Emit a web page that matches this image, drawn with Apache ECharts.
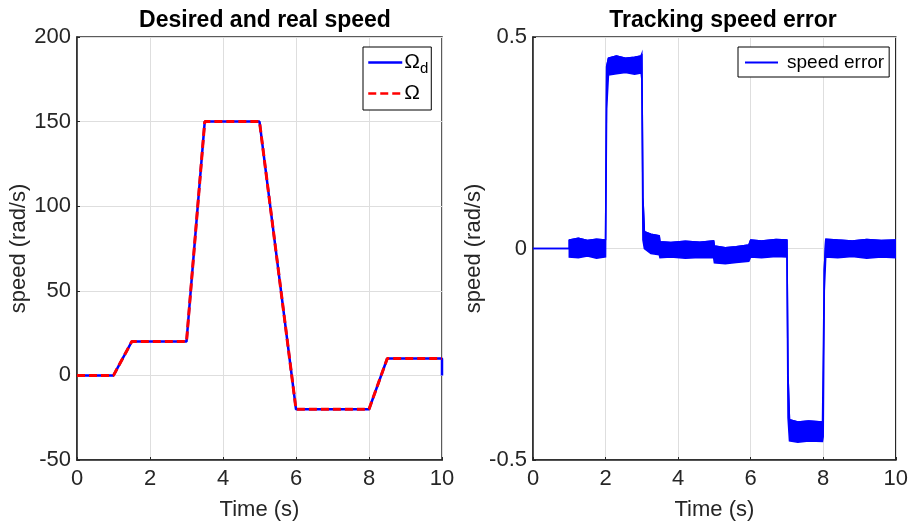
<!DOCTYPE html>
<html>
<head>
<meta charset="utf-8">
<script src="https://cdn.jsdelivr.net/npm/echarts@6/dist/echarts.min.js"></script>
<style>
html, body { margin: 0; padding: 0; background: #fff; }
#chart { width: 911px; height: 526px; }
</style>
</head>
<body>
<div id="chart"></div>
<script>
// left plot: desired / real speed
const speedT = [0, 1, 1.5, 3, 3.5, 5, 6, 8, 8.5, 10, 10];
const speedRef = [0, 0, 20, 20, 150, 150, -20, -20, 10, 10, 0];
const realT = [0, 1, 1.5, 3, 3.5, 5, 6, 8, 8.5, 10];
const speedReal = [0, 0, 20, 20, 150, 150, -20, -20, 10, 10];

// right plot: speed error, upper and lower edge of the noisy band
const errT = [0, 1, 1, 1.25, 1.5, 1.75, 2, 2.03, 2.08, 2.3, 2.55, 2.8, 2.98, 3.0, 3.03, 3.07, 3.25, 3.48, 3.5, 3.8, 4.2, 4.6, 4.98, 5.0, 5.3, 5.6, 5.95, 6.0, 6.3, 6.7, 7.0, 7.03, 7.07, 7.3, 7.6, 7.98, 8.0, 8.03, 8.07, 8.4, 8.8, 9.2, 9.6, 10];
const errUpper = [0, 0, 0.02, 0.024, 0.019, 0.022, 0.02, 0.43, 0.45, 0.455, 0.45, 0.452, 0.455, 0.46, 0.12, 0.04, 0.034, 0.03, 0.016, 0.014, 0.017, 0.015, 0.018, 0.006, 0.002, 0.004, 0.008, 0.02, 0.018, 0.021, 0.02, -0.3, -0.405, -0.41, -0.408, -0.41, -0.41, -0.05, 0.022, 0.02, 0.018, 0.021, 0.019, 0.02];
const errLower = [0, 0, -0.02, -0.022, -0.018, -0.023, -0.02, 0.33, 0.41, 0.413, 0.416, 0.412, 0.415, 0.40, 0.02, 0.0, -0.012, -0.015, -0.022, -0.02, -0.023, -0.021, -0.022, -0.034, -0.036, -0.033, -0.03, -0.02, -0.022, -0.019, -0.02, -0.4, -0.455, -0.458, -0.455, -0.456, -0.445, -0.1, -0.02, -0.022, -0.019, -0.023, -0.02, -0.022];

const FONT = "'Liberation Sans', Arial, sans-serif";
const AXIS_COLOR = '#262626';
const GRID_COLOR = '#dedede';

const zip = (xs, ys) => xs.map((x, i) => [x, ys[i]]);

function xAxisOf(gi) {
    return {
        gridIndex: gi,
        type: 'value',
        min: 0, max: 10, interval: 2,
        name: 'Time (s)',
        nameLocation: 'middle',
        nameGap: 39,
        nameTextStyle: { fontSize: 22, color: AXIS_COLOR, fontFamily: FONT },
        axisLine: { onZero: false, lineStyle: { color: AXIS_COLOR, width: 1.5 } },
        axisTick: { inside: true, length: 3, lineStyle: { color: AXIS_COLOR } },
        axisLabel: { fontSize: 22, color: AXIS_COLOR, fontFamily: FONT, margin: 8 },
        splitLine: { lineStyle: { color: GRID_COLOR, width: 1 } },
    };
}

function yAxisOf(gi, min, max, interval, gap) {
    return {
        gridIndex: gi,
        type: 'value',
        min: min, max: max, interval: interval,
        name: 'speed (rad/s)',
        nameLocation: 'middle',
        nameGap: gap,
        nameTextStyle: { fontSize: 22, color: AXIS_COLOR, fontFamily: FONT },
        axisLine: { onZero: false, lineStyle: { color: AXIS_COLOR, width: 1.5 } },
        axisTick: { inside: true, length: 3, lineStyle: { color: AXIS_COLOR } },
        axisLabel: { fontSize: 22, color: AXIS_COLOR, fontFamily: FONT, margin: 6 },
        splitLine: { lineStyle: { color: GRID_COLOR, width: 1 } },
    };
}

let chart = echarts.init(document.getElementById('chart'));

const option = {
    backgroundColor: '#fff',
    animation: false,
    title: [
        {
            text: 'Desired and real speed',
            left: 260, top: 4, textAlign: 'center',
            textStyle: { fontSize: 23, fontWeight: 'bold', color: '#000', fontFamily: FONT },
        },
        {
            text: 'Tracking speed error',
            left: 718, top: 4, textAlign: 'center',
            textStyle: { fontSize: 23, fontWeight: 'bold', color: '#000', fontFamily: FONT },
        },
    ],
    grid: [
        { left: 77, right: 469, top: 37, bottom: 66, show: true, borderColor: AXIS_COLOR, borderWidth: 1.5 },
        { left: 533, right: 10, top: 37, bottom: 66, show: true, borderColor: AXIS_COLOR, borderWidth: 1.5 },
    ],
    legend: [
        {
            data: ['Ωd', 'Ω'],
            orient: 'vertical',
            left: 363, top: 47,
            padding: [5, 3, 6, 4],
            itemGap: 7,
            itemWidth: 34,
            itemHeight: 14,
            backgroundColor: '#fff',
            borderColor: '#000',
            borderWidth: 1,
            borderRadius: 0,
            itemStyle: { opacity: 0 },
            lineStyle: { width: 2.5 },
            formatter: (name) => name === 'Ωd' ? '{o|Ω}{s|d}' : '{o|Ω}',
            textStyle: {
                color: '#000',
                fontFamily: FONT,
                padding: [0, 0, 0, -3],
                rich: {
                    o: { fontSize: 21, fontFamily: FONT, height: 26 },
                    s: { fontSize: 15, fontFamily: FONT, padding: [12, 0, 0, 0] },
                },
            },
        },
        {
            data: ['speed error'],
            left: 738, top: 47,
            padding: [6, 5, 5, 6],
            itemWidth: 33,
            itemHeight: 14,
            backgroundColor: '#fff',
            borderColor: '#000',
            borderWidth: 1,
            borderRadius: 0,
            itemStyle: { opacity: 0 },
            lineStyle: { width: 2 },
            textStyle: { fontSize: 19, color: '#000', fontFamily: FONT, padding: [0, 0, 0, 4] },
        },
    ],
    xAxis: [xAxisOf(0), xAxisOf(1)],
    yAxis: [yAxisOf(0, -50, 200, 50, 41), yAxisOf(1, -0.5, 0.5, 0.5, 43)],
    series: [
        {
            name: 'Ωd',
            type: 'line',
            xAxisIndex: 0, yAxisIndex: 0,
            data: zip(speedT, speedRef),
            symbol: 'none',
            lineStyle: { color: '#0000ff', width: 2.5 },
            itemStyle: { color: '#0000ff' },
        },
        {
            name: 'Ω',
            type: 'line',
            xAxisIndex: 0, yAxisIndex: 0,
            data: zip(realT, speedReal),
            symbol: 'none',
            lineStyle: { color: '#ff0000', width: 3, type: [8, 4] },
            itemStyle: { color: '#ff0000' },
        },
        {
            // filled band of the noisy error
            name: 'band',
            type: 'custom',
            xAxisIndex: 1, yAxisIndex: 1,
            clip: true,
            data: [[0, 0]],
            renderItem: (params, api) => {
                const pts = [];
                for (let i = 0; i < errT.length; i++) pts.push(api.coord([errT[i], errUpper[i]]));
                for (let i = errT.length - 1; i >= 0; i--) pts.push(api.coord([errT[i], errLower[i]]));
                return {
                    type: 'polygon',
                    shape: { points: pts },
                    style: { fill: '#0000ff', stroke: '#0000ff', lineWidth: 1.5 },
                };
            },
        },
        {
            name: 'speed error',
            type: 'line',
            xAxisIndex: 1, yAxisIndex: 1,
            data: zip(errT, errUpper),
            symbol: 'none',
            lineStyle: { color: '#0000ff', width: 1.5 },
            itemStyle: { color: '#0000ff' },
        },
    ],
};

chart.setOption(option);
</script>
</body>
</html>
